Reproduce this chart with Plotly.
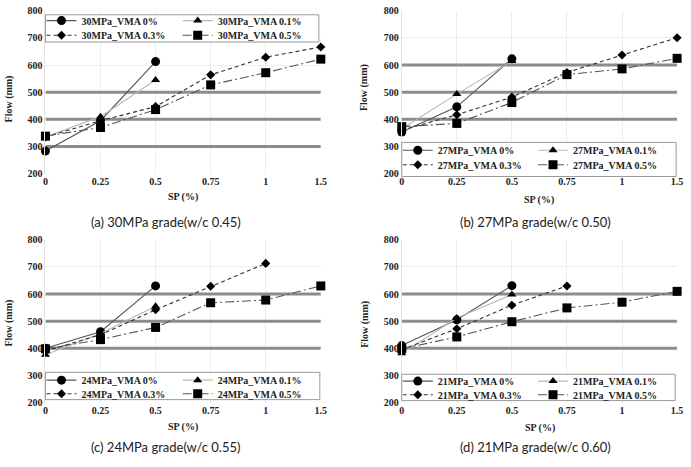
import plotly.graph_objects as go

W, H = 691, 467

sp_cats = ["0", "0.25", "0.5", "0.75", "1", "1.5"]
series_names = ["VMA 0%", "VMA 0.1%", "VMA 0.3%", "VMA 0.5%"]

grades = ["30MPa", "27MPa", "24MPa", "21MPa"]
captions = ["(a) 30MPa grade(w/c 0.45)", "(b) 27MPa grade(w/c 0.50)",
            "(c) 24MPa grade(w/c 0.55)", "(d) 21MPa grade(w/c 0.60)"]

# Flow values (mm) per grade, per VMA series
flow_30 = [
    [283, 395, 613],
    [335, 410, 545],
    [335, 395, 447, 564, 629, 667],
    [338, 370, 436, 527, 572, 622],
]
flow_27 = [
    [353, 446, 623],
    [365, 493, 615],
    [360, 417, 482, 573, 637, 701],
    [373, 385, 462, 565, 586, 625],
]
flow_24 = [
    [400, 461, 630],
    [376, 455, 555],
    [390, 450, 542, 629, 713],
    [398, 432, 477, 568, 578, 630],
]
flow_21 = [
    [410, 505, 631],
    [382, 512, 598],
    [395, 472, 559, 630],
    [398, 442, 498, 549, 570, 610],
]
all_flows = [flow_30, flow_27, flow_24, flow_21]

ref_levels = [
    [300, 400, 500],
    [400, 500, 600],
    [400, 500, 600],
    [400, 500, 600],
]

y_ticks = [200, 300, 400, 500, 600, 700, 800]

# styles
line_colors = ["#555555", "#b8b8b8", "#333333", "#555555"]
line_dash = ["solid", "solid", "4px,3px", "9px,3px,2px,3px"]
symbols = ["circle", "triangle-up", "diamond", "square"]
msizes = [9, 8, 7, 9]

# panel geometry in pixels: (x0, x1, ytop, ybottom)
panels = [
    (43, 322, 5, 172),
    (404, 683, 5, 172),
    (43, 322, 240, 407),
    (404, 683, 240, 407),
]
# legend boxes (x0, x1, y0, y1)
legend_boxes = [(43, 320, 9, 37), (404, 682, 140, 175), (43, 321, 376, 404), (404, 681, 378, 405)]
# legend text column starts and row centres
legend_cols = [(79, 217), (440, 577), (79, 217), (440, 577)]
legend_rows = [(15, 30), (148, 163), (384, 398), (385, 399)]
caption_pos = [(165, 222), (540, 222), (165, 453), (540, 453)]
xtitle_pos = [(182, 196), (543, 199), (182, 432), (544, 433)]
ytitle_pos = [(6, 95), (366, 84), (6, 325), (366, 327)]

fig = go.Figure()
serif = "Liberation Serif"
tick_font = dict(family=serif, size=10, color="#222222", weight="bold")

leg_idx = 0
for p, (grade, flows) in enumerate(zip(grades, all_flows)):
    ax = "" if p == 0 else str(p + 1)
    # thick reference lines (drawn first, beneath the series)
    for lvl in ref_levels[p]:
        fig.add_trace(go.Scatter(
            x=[sp_cats[0], sp_cats[-1]], y=[lvl, lvl], mode="lines",
            line=dict(color="#8c8c8c", width=3), showlegend=False, hoverinfo="skip",
            cliponaxis=False, xaxis="x" + ax, yaxis="y" + ax,
        ))
    for s, name in enumerate(series_names):
        vals = flows[s]
        leg_idx += 1
        lg = "legend" if leg_idx == 1 else "legend" + str(leg_idx)
        fig.add_trace(go.Scatter(
            x=sp_cats[:len(vals)], y=vals,
            mode="lines+markers",
            name=f"{grade}_{name}",
            line=dict(color=line_colors[s], width=1.1, dash=line_dash[s]),
            marker=dict(symbol=symbols[s], size=msizes[s], color="black"),
            cliponaxis=False,
            xaxis="x" + ax, yaxis="y" + ax,
            legend=lg,
        ))
        col = s % 2
        row = s // 2
        tx = legend_cols[p][col]
        ty = legend_rows[p][row]
        fig.update_layout(**{lg: dict(
            x=(tx - 40) / W, y=1 - ty / H, xanchor="left", yanchor="middle",
            orientation="v", itemwidth=30,
            font=dict(family=serif, size=10, color="#222", weight="bold"),
            bgcolor="rgba(0,0,0,0)", borderwidth=0,
        )})
    x0, x1, yt, yb = panels[p]
    fig.update_layout(**{
        "xaxis" + ax: dict(
            domain=[x0 / W, x1 / W], anchor="y" + ax, type="category",
            categoryorder="array", categoryarray=sp_cats,
            range=[0, 5], showgrid=True, gridcolor="#ededed", gridwidth=1,
            zeroline=False, showline=False, ticks="",
            tickfont=tick_font,
        ),
        "yaxis" + ax: dict(
            domain=[1 - yb / H, 1 - yt / H], anchor="x" + ax,
            range=[200, 800], tickvals=y_ticks,
            showgrid=True, gridcolor="#ededed", zeroline=False, showline=True,
            linecolor="#e2e2e2", ticks="", tickfont=tick_font,
        ),
    })
    bx0, bx1, by0, by1 = legend_boxes[p]
    fig.add_shape(type="rect", xref="paper", yref="paper",
                  x0=bx0 / W, x1=bx1 / W, y0=1 - by1 / H, y1=1 - by0 / H,
                  line=dict(color="#9a9a9a", width=1), fillcolor="white", layer="above")
    cx, cy = caption_pos[p]
    fig.add_annotation(text=captions[p], x=cx / W, y=1 - cy / H, xref="paper", yref="paper",
                       showarrow=False, xanchor="center", yanchor="middle",
                       font=dict(family="Lato", size=13, color="#222"))
    xx, xy = xtitle_pos[p]
    fig.add_annotation(text="SP (%)", x=xx / W, y=1 - xy / H, xref="paper", yref="paper",
                       showarrow=False, xanchor="center", yanchor="middle",
                       font=dict(family=serif, size=10, color="#222", weight="bold"))
    yx, yy = ytitle_pos[p]
    fig.add_annotation(text="Flow (mm)", x=yx / W, y=1 - yy / H, xref="paper", yref="paper",
                       showarrow=False, xanchor="center", yanchor="middle", textangle=-90,
                       font=dict(family=serif, size=10, color="#222", weight="bold"))

fig.update_layout(width=W, height=H, margin=dict(l=0, r=0, t=0, b=0),
                  plot_bgcolor="white", paper_bgcolor="white", showlegend=True)

fig.write_html("out.html")
